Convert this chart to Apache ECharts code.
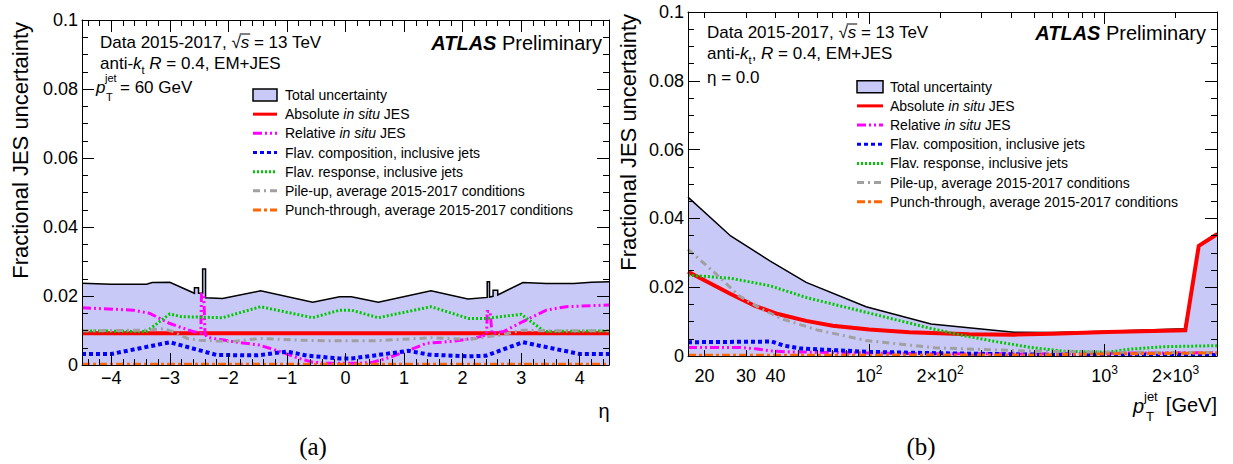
<!DOCTYPE html>
<html><head><meta charset="utf-8">
<script src="https://cdn.jsdelivr.net/npm/echarts@6/dist/echarts.min.js"></script>
<style>html,body{margin:0;padding:0;background:#fff}#c{width:1233px;height:464px}</style>
</head><body><div id="c"></div>
<script>
// ---------------- data ----------------
const etaMajorTicks = [-4, -3, -2, -1, 0, 1, 2, 3, 4];
const ptLabelTicks = [20, 30, 40, 100, 200, 1000, 2000];
const ptMajorTicks = [100, 1000];
const ptMinorTicks = [20, 30, 40, 50, 60, 70, 80, 90, 200, 300, 400, 500, 600, 700, 800, 900, 2000, 3000];
const yTicks = [0, 0.02, 0.04, 0.06, 0.08, 0.1];

const legendNames = ['Total uncertainty', 'Absolute in situ JES', 'Relative in situ JES',
  'Flav. composition, inclusive jets', 'Flav. response, inclusive jets',
  'Pile-up, average 2015-2017 conditions', 'Punch-through, average 2015-2017 conditions'];

// (a) uncertainty vs eta at pT = 60 GeV
const etaTotal = [-4.5, -4.0, -3.4, -3.3, -3.0, -2.58, -2.58, -2.51, -2.51, -2.44, -2.44, -2.39, -2.39, -2.1, -1.45, -0.56, -0.1, 0.1, 0.56, 1.46, 2.09, 2.42, 2.42, 2.46, 2.46, 2.52, 2.52, 2.6, 2.6, 3.03, 3.43, 3.9, 4.2, 4.5];
const valTotalA = [0.0237, 0.0234, 0.0234, 0.0239, 0.024, 0.0208, 0.0224, 0.0224, 0.0208, 0.0208, 0.0278, 0.0278, 0.0195, 0.0193, 0.0215, 0.0182, 0.0198, 0.0198, 0.0182, 0.0215, 0.0191, 0.0196, 0.0241, 0.0241, 0.0197, 0.0199, 0.0217, 0.0217, 0.0203, 0.0239, 0.0236, 0.0236, 0.024, 0.0241];
const etaAbs = [-4.5, 4.5];
const valAbsA = [0.0092, 0.0092];
const etaRel = [-4.5, -3.63, -3.35, -3.01, -2.61, -2.47, -2.46, -2.42, -2.4, -2.36, -1.93, -1.48, -1.19, -0.79, -0.56, -0.3, 0.24, 0.47, 0.75, 1.09, 1.38, 1.78, 2.18, 2.41, 2.42, 2.47, 2.5, 2.7, 3.03, 3.43, 3.77, 4.5];
const valRelA = [0.0166, 0.0159, 0.015, 0.0121, 0.0097, 0.0093, 0.0205, 0.0205, 0.009, 0.008, 0.0068, 0.0058, 0.0043, 0.0019, 0.0008, 0.0005, 0.0005, 0.0008, 0.0022, 0.0043, 0.0063, 0.0068, 0.0077, 0.0087, 0.0155, 0.0155, 0.0092, 0.0097, 0.0126, 0.0159, 0.0169, 0.0174];
const etaComp = [-4.5, -4.0, -3.0, -2.2, -1.5, -1.0, -0.65, -0.1, 0.1, 0.47, 1.07, 1.43, 2.1, 2.4, 3.03, 3.54, 4.0, 4.5];
const valCompA = [0.0032, 0.0032, 0.0066, 0.0029, 0.0028, 0.0039, 0.0027, 0.0019, 0.0019, 0.0027, 0.0041, 0.003, 0.0025, 0.0027, 0.0066, 0.0048, 0.0032, 0.0032];
const etaResp = [-4.5, -3.4, -3.0, -2.8, -2.1, -1.45, -0.56, -0.1, 0.1, 0.56, 1.46, 2.1, 2.4, 3.0, 3.4, 4.5];
const valRespA = [0.0099, 0.0097, 0.0148, 0.014, 0.0137, 0.0169, 0.0137, 0.0159, 0.0159, 0.0137, 0.0169, 0.0135, 0.0135, 0.0147, 0.0097, 0.0099];
const etaPU = [-4.5, -3.4, -3.1, -2.95, -2.7, -2.5, -1.95, -1.45, -0.8, -0.3, 0.5, 1.46, 2.1, 2.65, 3.03, 3.3, 4.5];
const valPUA = [0.0099, 0.0101, 0.0105, 0.0097, 0.0077, 0.0072, 0.0068, 0.0077, 0.0072, 0.007, 0.007, 0.0079, 0.0074, 0.0087, 0.0101, 0.0099, 0.0099];
const etaPunch = [-4.5, 4.5];
const valPunchA = [0.0002, 0.0002];

// (b) uncertainty vs pT at eta = 0
const ptTotal = [17, 25.8, 38, 54, 97, 183, 412, 600, 1030, 2190, 2510, 3000];
const valTotalB = [0.0462, 0.0349, 0.0276, 0.0214, 0.0143, 0.0093, 0.0069, 0.0068, 0.0072, 0.0079, 0.0323, 0.0357];
const ptAbs = [17, 25.8, 32.6, 41, 54, 70, 100, 148, 265, 412, 600, 1030, 2200, 2510, 3000];
const valAbsB = [0.0245, 0.018, 0.0146, 0.0122, 0.0102, 0.0088, 0.0077, 0.0069, 0.0063, 0.0062, 0.0065, 0.007, 0.0075, 0.032, 0.0354];
const ptRel = [17, 28, 33, 38, 45, 60, 150, 500, 1000, 3000];
const valRelB = [0.0025, 0.0025, 0.0021, 0.0015, 0.0012, 0.0011, 0.0007, 0.0006, 0.0008, 0.001];
const ptComp = [17, 38.5, 43.5, 51, 98.7, 202, 500, 3000];
const valCompB = [0.004, 0.0042, 0.003, 0.0022, 0.0012, 0.0008, 0.0004, 0.0003];
const ptResp = [17, 25.8, 38, 54, 97, 183, 253, 351, 485, 672, 1026, 1288, 1780, 3000];
const valRespB = [0.0235, 0.0226, 0.0204, 0.017, 0.0127, 0.008, 0.0059, 0.0041, 0.0025, 0.0014, 0.0011, 0.002, 0.0027, 0.003];
const ptPU = [17, 22, 28, 35, 43, 60, 97, 190, 485, 1030, 3000];
const valPUB = [0.031, 0.0243, 0.0175, 0.0136, 0.0107, 0.0076, 0.0045, 0.0024, 0.0014, 0.0011, 0.001];
const ptPunch = [17, 500, 1000, 3000];
const valPunchB = [0.0002, 0.0003, 0.0006, 0.0009];

// ---------------- styles ----------------
const FONT = '"Liberation Sans", Arial, Helvetica, sans-serif';
const SERIF = '"Liberation Serif", "DejaVu Serif", serif';
const FILL = '#c9c9f7';
const STY = [
  { color: '#000000', width: 1.5, type: 'solid' },
  { color: '#ff0000', width: 4, type: 'solid' },
  { color: '#ff00ff', width: 3, type: [9, 3, 2, 3, 2, 3] },
  { color: '#0000ff', width: 4, type: [4, 3] },
  { color: '#00c800', width: 3, type: [2, 2] },
  { color: '#a0a0a0', width: 3, type: [7, 4, 2, 4] },
  { color: '#ff6600', width: 3, type: [8, 3, 3, 3] }
];

const etaMinorTicks = [];
for (let k = -22; k <= 22; k++) if (k % 5 !== 0) etaMinorTicks.push(k / 5);

const zip = (xs, ys) => xs.map((x, i) => [x, ys[i]]);

function mkSeries(idx, xs, ys, xi, yi) {
  const st = STY[idx];
  const s = {
    name: legendNames[idx], type: 'line', xAxisIndex: xi, yAxisIndex: yi,
    data: zip(xs, ys), symbol: 'none', silent: true, animation: false,
    lineStyle: { color: st.color, width: st.width, type: st.type, cap: 'butt', join: 'miter' },
    z: 2 + idx
  };
  if (idx === 0) s.areaStyle = { color: FILL, opacity: 1, origin: 'start' };
  return s;
}

const lineBlack = { show: true, onZero: false, lineStyle: { color: '#000', width: 1 } };
const labelFont = { color: '#000', fontSize: 18, fontFamily: FONT };

function xAx(grid, pos, kind, major, isLog) {
  const ax = {
    type: isLog ? 'log' : 'value', gridIndex: grid, position: pos,
    min: isLog ? 17 : -4.5, max: isLog ? 3000 : 4.5, z: 10,
    splitLine: { show: false },
    axisLine: kind === 'major' ? lineBlack : { show: false, onZero: false },
    axisTick: { show: true, inside: true, length: kind === 'major' ? 12 : 6,
      customValues: major, lineStyle: { color: '#000', width: 1 } },
    axisLabel: { show: false }
  };
  if (isLog) ax.logBase = 10;
  return ax;
}

const xAxes = [
  xAx(0, 'bottom', 'major', etaMajorTicks, false),
  xAx(0, 'bottom', 'minor', etaMinorTicks, false),
  xAx(0, 'top', 'major', etaMajorTicks, false),
  xAx(0, 'top', 'minor', etaMinorTicks, false),
  xAx(1, 'bottom', 'major', ptMajorTicks, true),
  xAx(1, 'bottom', 'minor', ptMinorTicks, true),
  xAx(1, 'top', 'major', ptMajorTicks, true),
  xAx(1, 'top', 'minor', ptMinorTicks, true)
];
xAxes[0].axisLabel = Object.assign({ show: true, customValues: etaMajorTicks, margin: 4,
  formatter: v => (v < 0 ? '\u2212' + Math.abs(v) : String(v)) }, labelFont);
xAxes[4].axisLabel = Object.assign({ show: true, customValues: ptLabelTicks, margin: 8, lineHeight: 24,
  formatter: v => {
    if (v < 100) return String(v);
    const e = Math.floor(Math.log10(v) + 1e-9);
    const m = Math.round(v / Math.pow(10, e));
    return (m === 1 ? '' : m + '\u00d7') + '10{sup|' + e + '}';
  },
  rich: { sup: { fontSize: 12, fontFamily: FONT, color: '#000', verticalAlign: 'top', lineHeight: 10 } }
}, labelFont);

function yAx(grid, pos, labels) {
  return {
    type: 'value', gridIndex: grid, position: pos, min: 0, max: 0.1, interval: 0.02, z: 10,
    splitLine: { show: false }, axisLine: lineBlack,
    axisTick: { show: true, inside: true, length: 12, lineStyle: { color: '#000', width: 1 } },
    minorTick: { show: true, splitNumber: 4, length: 6, lineStyle: { color: '#000', width: 1 } },
    axisLabel: labels ? Object.assign({ show: true, margin: 4,
      formatter: v => (v === 0 ? '0' : String(+v.toFixed(3))) }, labelFont) : { show: false }
  };
}
const yAxes = [yAx(0, 'left', true), yAx(0, 'right', false), yAx(1, 'left', true), yAx(1, 'right', false)];

const series = [
  mkSeries(0, etaTotal, valTotalA, 0, 0),
  mkSeries(1, etaAbs, valAbsA, 0, 0),
  mkSeries(2, etaRel, valRelA, 0, 0),
  mkSeries(3, etaComp, valCompA, 0, 0),
  mkSeries(4, etaResp, valRespA, 0, 0),
  mkSeries(5, etaPU, valPUA, 0, 0),
  mkSeries(6, etaPunch, valPunchA, 0, 0),
  mkSeries(0, ptTotal, valTotalB, 4, 2),
  mkSeries(1, ptAbs, valAbsB, 4, 2),
  mkSeries(2, ptRel, valRelB, 4, 2),
  mkSeries(3, ptComp, valCompB, 4, 2),
  mkSeries(4, ptResp, valRespB, 4, 2),
  mkSeries(5, ptPU, valPUB, 4, 2),
  mkSeries(6, ptPunch, valPunchB, 4, 2)
];

// ---------------- text / legend graphics ----------------
const measureCtx = document.createElement('canvas').getContext('2d');
function textW(str, size, style) {
  measureCtx.font = (style || '') + ' ' + size + 'px "Liberation Sans"';
  return measureCtx.measureText(str).width;
}
const G = [];
function T(x, y, text, o) {
  o = o || {};
  G.push({ type: 'text', x: x, y: y, rotation: o.rot || 0, silent: true, z: 100,
    style: { text: text, fill: '#000', fontSize: o.size || 17, fontFamily: o.family || FONT,
      fontStyle: o.italic ? 'italic' : 'normal', fontWeight: o.bold ? 'bold' : 'normal',
      align: o.align || 'left', verticalAlign: 'middle', lineHeight: o.lh, rich: o.rich } });
}
const richIt = { i: { fontStyle: 'italic', fontSize: 17, fontFamily: FONT, lineHeight: 24 },
  sub: { fontSize: 11, fontFamily: FONT, verticalAlign: 'bottom', lineHeight: 10 } };

function sqrtLine(x0, y) {
  const w0 = textW('Data 2015-2017, \u221a', 17);
  const ws = textW('s', 17, 'italic');
  G.push({ type: 'line', silent: true, z: 100,
    shape: { x1: x0 + w0 - 1, y1: y - 8, x2: x0 + w0 + ws + 1, y2: y - 8 },
    style: { stroke: '#000', lineWidth: 1 } });
}

function panelText(x, yData, atlasRight, atlasY, thirdLine, antiComma) {
  T(x, yData, 'Data 2015-2017, \u221a{i|s} = 13 TeV', { rich: richIt, lh: 24 });
  sqrtLine(x, yData);
  T(x, yData + 21, 'anti-{i|k}{sub|t}' + (antiComma ? ',' : '') + ' {i|R} = 0.4, EM+JES', { rich: richIt, lh: 24 });
  T(atlasRight, atlasY, '{b|ATLAS} Preliminary', { size: 20, align: 'right',
    rich: { b: { fontStyle: 'italic', fontWeight: 'bold', fontSize: 20, fontFamily: FONT } } });
  thirdLine(x, yData + 44);
}

panelText(100, 42, 602, 43, (x, y) => {
  T(x - 4, y + 1, 'p', { italic: true });
  T(x + 5, y - 8, 'jet', { size: 11 });
  T(x + 6, y + 11, 'T', { size: 11 });
  T(x + 20, y + 1, '= 60 GeV');
}, false);
panelText(707, 32, 1206, 33, (x, y) => { T(x, y + 1, '\u03b7 = 0.0'); }, true);

function legendBlock(x0, y0, boxW, textX) {
  const dy = 19.17;
  legendNames.forEach((nm, i) => {
    const y = y0 + i * dy;
    if (i === 0) {
      G.push({ type: 'rect', silent: true, z: 100, shape: { x: x0, y: y - 6, width: boxW, height: 12 },
        style: { fill: FILL, stroke: '#000', lineWidth: 1.5 } });
    } else {
      const st = STY[i];
      G.push({ type: 'line', silent: true, z: 100, shape: { x1: x0, y1: y, x2: x0 + boxW, y2: y },
        style: { stroke: st.color, lineWidth: Math.min(st.width, 3), lineDash: st.type === 'solid' ? null : st.type, lineCap: 'butt' } });
    }
    T(textX, y, nm.replace('in situ', '{i|in situ}'), { size: 14,
      rich: { i: { fontStyle: 'italic', fontSize: 14, fontFamily: FONT } } });
  });
}
legendBlock(253, 95, 24, 285);
legendBlock(857, 86.7, 26, 890);

// axis titles
T(20, 22, 'Fractional JES uncertainty', { size: 22, align: 'right', rot: Math.PI / 2 });
T(628, 14, 'Fractional JES uncertainty', { size: 22, align: 'right', rot: Math.PI / 2 });
T(604, 411, '\u03b7', { size: 20, align: 'center' });
T(1133, 406, 'p', { size: 20, italic: true });
T(1144, 396, 'jet', { size: 13 });
T(1146, 416, 'T', { size: 13 });
T(1217, 405, '[GeV]', { size: 20, align: 'right' });
T(313, 446, '(a)', { size: 25, align: 'center', family: SERIF });
T(921, 446, '(b)', { size: 25, align: 'center', family: SERIF });

const chart = echarts.init(document.getElementById('c'), null, { renderer: 'svg', width: 1233, height: 464 });
chart.setOption({
  animation: false,
  backgroundColor: '#ffffff',
  grid: [
    { left: 82, top: 20, width: 527, height: 345 },
    { left: 688, top: 12, width: 529, height: 344 }
  ],
  xAxis: xAxes,
  yAxis: yAxes,
  series: series,
  graphic: { elements: G }
});
</script>
</body></html>
